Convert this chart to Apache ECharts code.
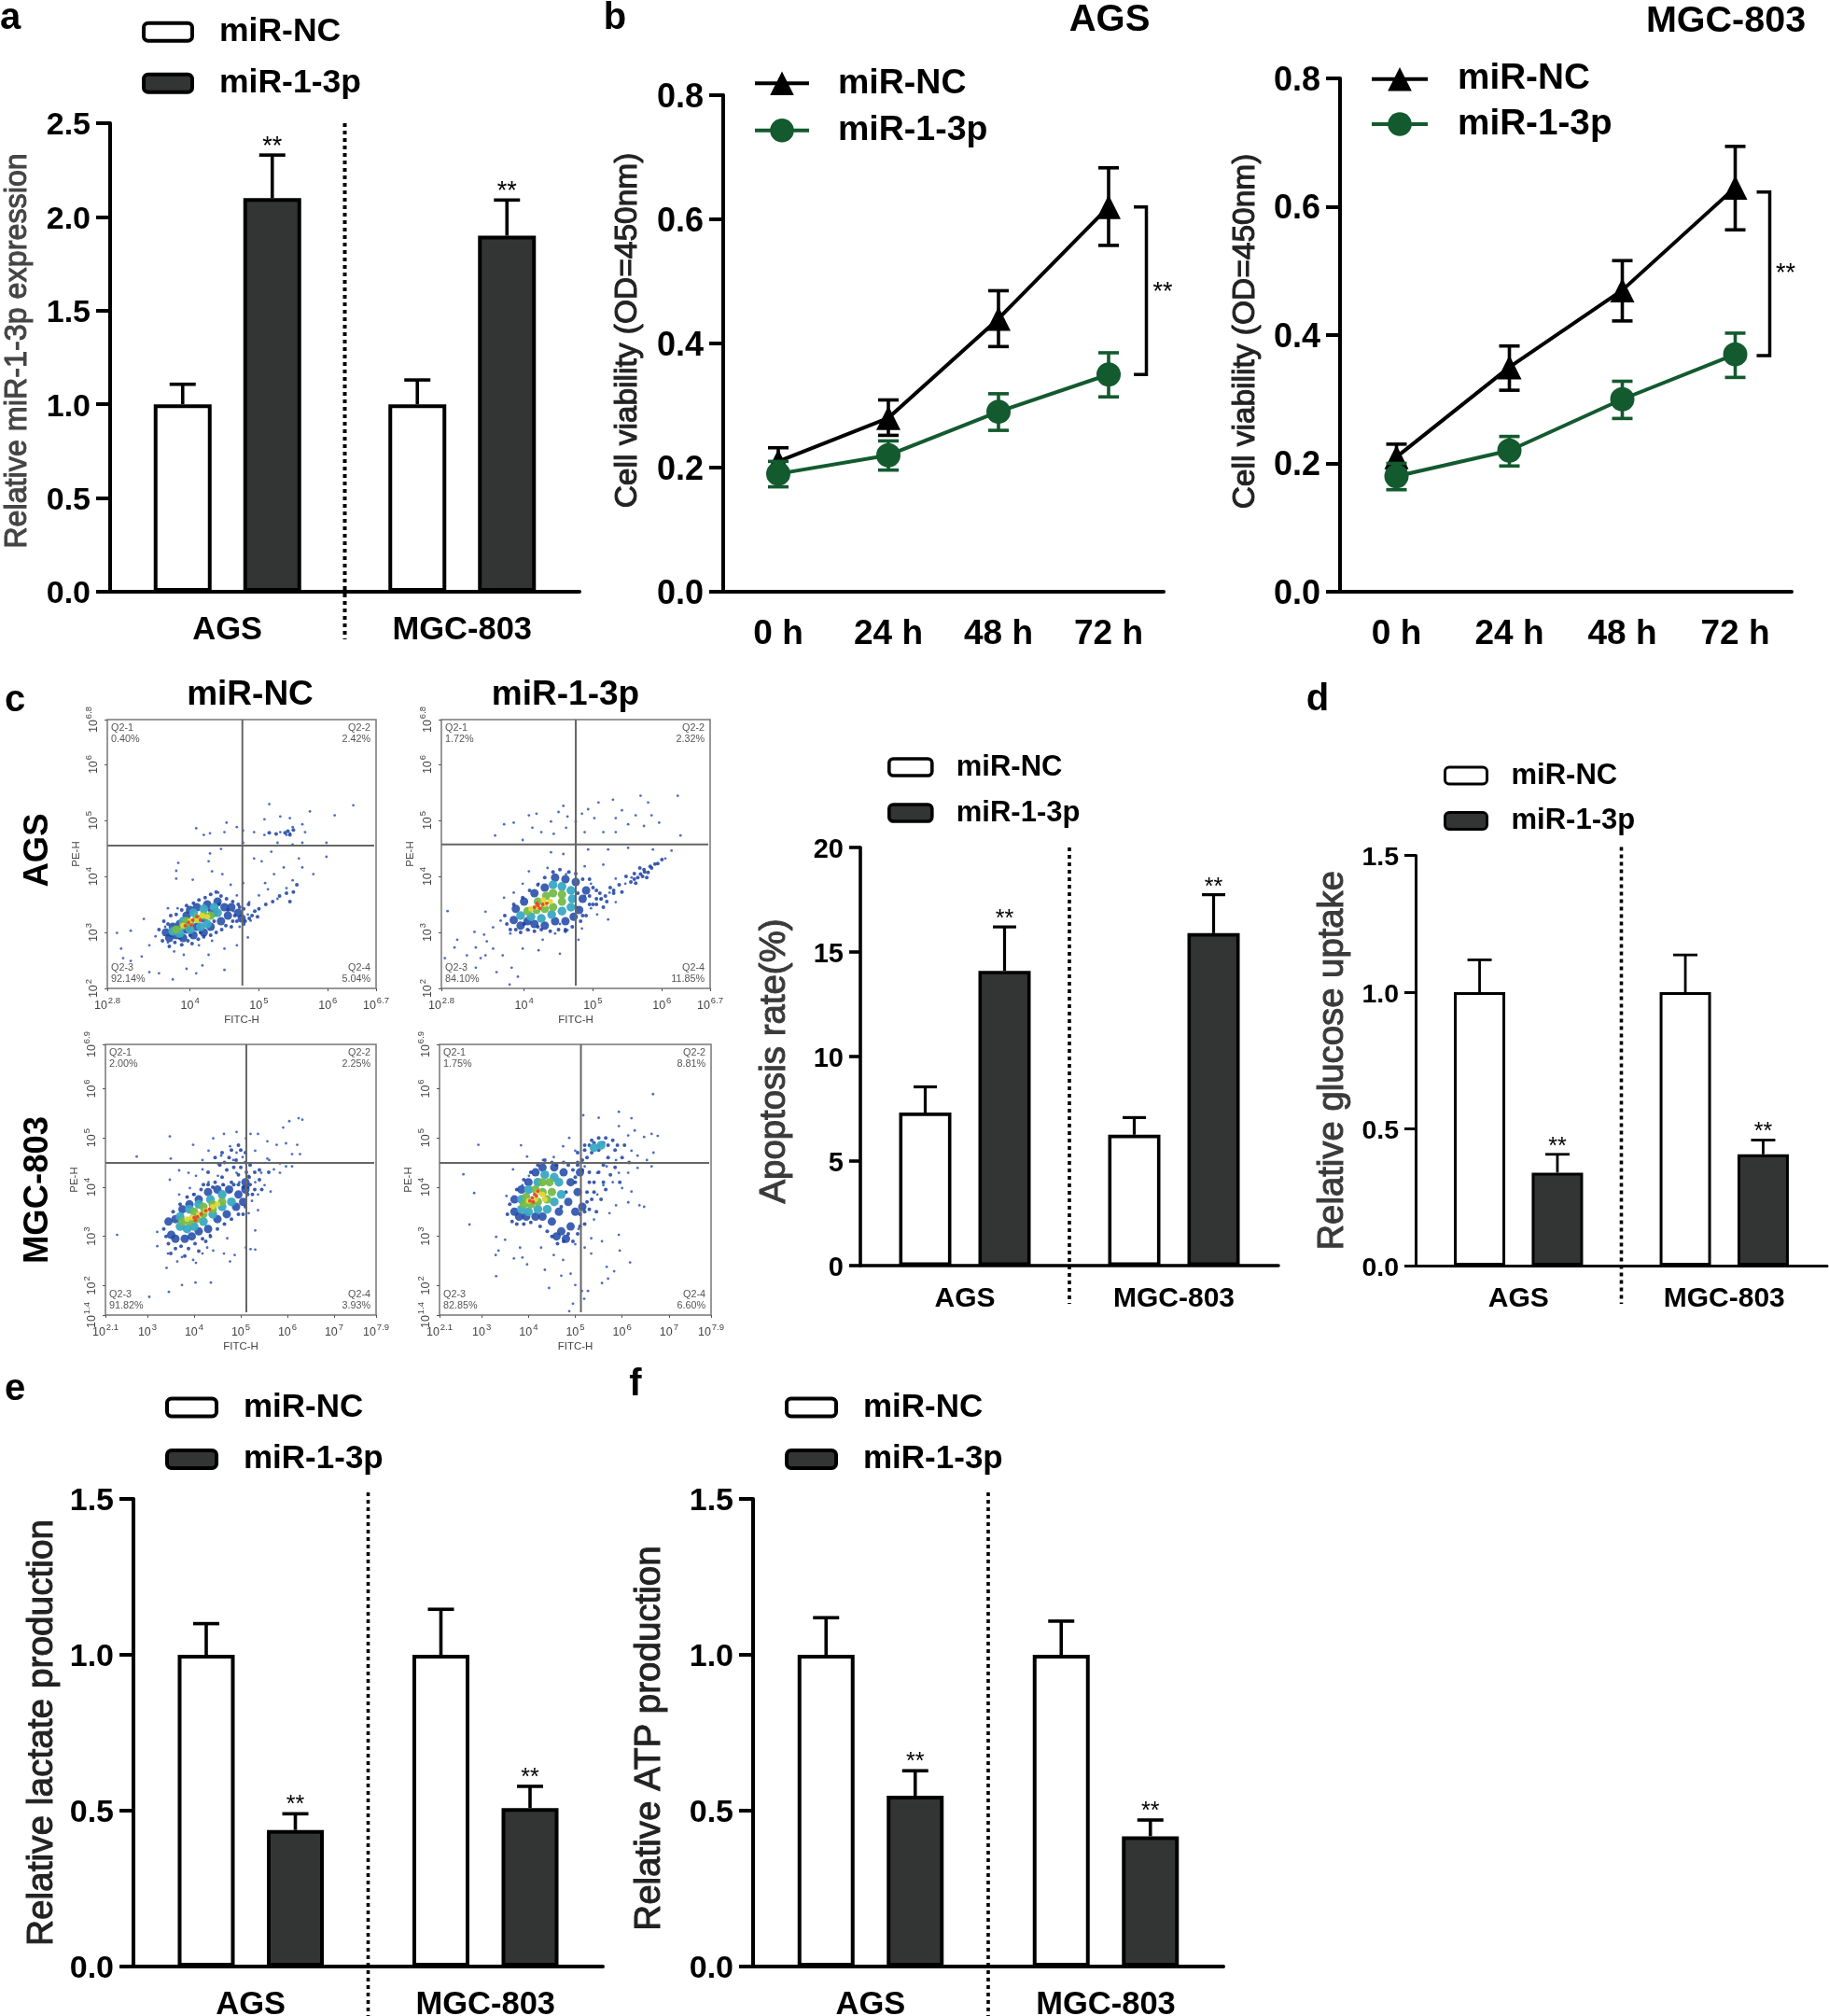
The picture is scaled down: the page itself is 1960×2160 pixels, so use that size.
<!DOCTYPE html>
<html><head><meta charset="utf-8">
<style>html,body{margin:0;padding:0;background:#fff}#c{width:1960px;height:2160px}</style>
<script src="https://cdn.jsdelivr.net/npm/echarts@6/dist/echarts.min.js"></script>
</head><body><div id="c"></div>
<script>
const cellLines=['AGS','MGC-803'];
const timePoints=['0 h','24 h','48 h','72 h'];
const NC='miR-NC', MIR='miR-1-3p';
// bar panels: means and top of the error bar
const aNC=[1,1], aNCTop=[1.107,1.13], aMiR=[2.1,1.9], aMiRTop=[2.33,2.09];
const cNC=[7.32,6.26], cNCTop=[8.55,7.08], cMiR=[14.1,15.9], cMiRTop=[16.2,17.74];
const dNC=[1,1], dNCTop=[1.118,1.136], dMiR=[0.34,0.407], dMiRTop=[0.407,0.459];
const eNC=[1,1], eNCTop=[1.10,1.146], eMiR=[0.438,0.508], eMiRTop=[0.49,0.578];
const fNC=[1,1], fNCTop=[1.119,1.108], fMiR=[0.548,0.418], fMiRTop=[0.628,0.47];
// line panels
const bAgsNC=[0.21,0.28,0.44,0.62], bAgsNCUp=[0.232,0.309,0.485,0.683], bAgsNCLo=[0.19,0.252,0.395,0.558];
const bAgsMiR=[0.19,0.22,0.29,0.35], bAgsMiRUp=[0.21,0.243,0.319,0.385], bAgsMiRLo=[0.169,0.196,0.26,0.314];
const bAgsBracket=[0.62,0.35,0.482];
const bMgcNC=[0.21,0.35,0.47,0.63], bMgcNCUp=[0.23,0.383,0.516,0.694], bMgcNCLo=[0.19,0.314,0.422,0.564];
const bMgcMiR=[0.18,0.22,0.30,0.37], bMgcMiRUp=[0.2,0.242,0.328,0.403], bMgcMiRLo=[0.159,0.196,0.27,0.334];
const bMgcBracket=[0.623,0.368,0.495];
// flow cytometry panels: log10 FITC-H, log10 PE-H
const q1Labels=['Q2-1\n0.40%','Q2-2\n2.42%','Q2-3\n92.14%','Q2-4\n5.04%'];
const q2Labels=['Q2-1\n1.72%','Q2-2\n2.32%','Q2-3\n84.10%','Q2-4\n11.85%'];
const q3Labels=['Q2-1\n2.00%','Q2-2\n2.25%','Q2-3\n91.82%','Q2-4\n3.93%'];
const q4Labels=['Q2-1\n1.75%','Q2-2\n8.81%','Q2-3\n82.85%','Q2-4\n6.60%'];
const f1Sparse=[[4.09,4.86],[4.2,4.74],[4.29,4.77],[4.53,4.96],[4.5,4.79],[4.68,4.88],[4.77,4.82],[4.93,4.79],[5.08,5.02],[5.08,4.74],[5.15,5.29],[5.31,5.07],[5.31,4.79],[5.4,4.74],[5.45,4.77],[5.49,4.88],[5.45,5.04],[5.63,4.93],[5.74,5.16],[5.67,4.79],[6.1,5.09],[6.37,5.27],[5.98,4.6],[5.98,4.35],[5.49,4.57],[5.63,4.6],[5.27,4.6],[4.77,4.6],[4.45,4.49],[4.29,4.41],[5.18,4.44],[4.93,4.32],[5.04,4.27],[5.58,4.32],[5.36,4.16],[5.63,4.16],[5.79,4.04],[5.22,4.04],[5.09,3.88],[5.4,3.79],[5.27,3.6],[5,3.66],[4.86,3.54],[5.49,3.93],[5.13,3.77],[4.68,3.66],[4.59,3.85],[4.77,3.88],[4.47,4.04],[4.32,4.09],[4.27,4.27],[3.8,4.1],[3.83,4.24],[4.04,3.94],[3.8,3.96],[2.94,2.99],[3.14,3.03],[3.33,3.24],[3,2.71],[3.03,2.54],[3.14,2.49],[3.3,2.57],[3.41,2.77],[3.41,2.29],[3.55,2.27],[3.77,2.66],[3.75,2.16],[3.95,2.35],[4.09,2.27],[4.18,2.41],[4.5,2.33],[4.27,2.6],[4.5,2.71],[4.68,2.77],[3.91,2.6],[4.13,2.77],[4.84,2.91],[4.72,3.1],[4.88,3.21],[4.63,3.38],[4.84,3.32],[3.64,3.1],[3.68,3.43],[3.82,3.43],[3.68,2.82],[3.5,2.93],[4.32,2.85],[4.41,3.71]];
const f1Mid=[[4.9,3.3],[5.0,3.42],[5.1,3.5],[5.2,3.55],[5.3,3.65],[5.4,3.7],[5.5,3.72],[5.55,3.85],[5.45,3.55],[5.38,4.78],[5.45,4.74],[5.42,4.81],[5.25,4.76],[5.15,4.78],[5.5,4.83],[4.8,3.2],[4.72,3.45],[4.62,3.2],[3.55,3.05],[3.6,2.85],[3.62,3.2],[3.7,2.75],[3.72,3.3],[3.78,2.82],[3.8,3.32],[3.88,2.78],[3.88,3.4],[3.97,2.85],[3.95,3.48],[4.03,2.8],[4.05,3.52],[4.12,2.88],[4.13,3.58],[4.2,2.92],[4.22,3.62],[4.3,2.95],[4.3,3.68],[4.38,3],[4.38,3.72],[4.46,3.05],[4.45,3.65],[4.52,3.12],[4.53,3.6],[4.6,3.1],[4.62,3.55],[4.68,3.2],[4.7,3.5],[4.78,3.15],[4.78,3.42],[4.86,3.25],[4.85,3.5],[4.94,3.38],[4.98,3.28],[4.42,3.5],[4.55,3.4],[4.65,3.3],[4.35,3.2],[4.28,3.4],[4.15,3],[4,2.95],[3.85,2.9],[3.72,2.95],[3.68,3.15]];
const f1Blue=[[3.65,3],[3.7,2.9],[3.75,3.1],[3.8,2.95],[3.85,3.15],[3.9,2.9],[3.95,3.05],[3.95,3.3],[4,3.4],[4.05,2.95],[4.1,3.1],[4.1,3.45],[4.2,3],[4.2,3.25],[4.25,3.5],[4.3,3.1],[4.35,3.35],[4.4,3.55],[4.45,3.2],[4.5,3.45],[4.55,3.3],[4.6,3.45],[4.7,3.35],[4.75,3.25]];
const f1Cyan=[[3.75,3.02],[3.85,2.98],[4,3.05],[4.15,3.1],[4.25,3.15],[4.4,3.35],[4.35,3.45],[4.2,3.42],[4.05,3.35],[3.9,3.2]];
const f1Green=[[3.8,3.05],[3.9,3.12],[4,3.18],[4.1,3.25],[4.2,3.3],[4.3,3.3],[3.95,3.2]];
const f1Yellow=[[3.9,3.12],[4,3.2],[4.1,3.22],[4.18,3.3],[4.25,3.28]];
const f1Red=[[3.93,3.12],[3.98,3.18],[4.04,3.22],[4.02,3.13],[4.1,3.28],[4.15,3.22]];
const f2Sparse=[[3.71,4.93],[3.85,4.96],[3.58,4.73],[4.07,5.09],[4.18,5.12],[4.12,4.87],[4.25,4.79],[4.39,4.98],[4.5,5.15],[4.57,5.26],[4.63,5.07],[4.61,4.87],[4.75,4.98],[4.84,5.12],[4.93,5.2],[5.08,5.32],[5.02,5.04],[5.15,4.79],[5.29,5.37],[5.33,5.04],[5.42,5.18],[5.51,4.93],[5.62,5.09],[5.69,5.44],[5.8,5.32],[5.74,4.9],[5.85,5.09],[5.96,4.96],[6.23,5.44],[6.27,4.73],[5.33,4.79],[4.88,4.79],[4.43,4.76],[3.98,4.65],[4.39,4.43],[4.57,4.4],[4.93,4.48],[5.22,4.48],[5.51,4.51],[5.87,4.48],[6.14,4.46],[6.05,4.32],[5.56,3.98],[5.47,3.87],[5.33,3.96],[5.15,4.21],[4.88,4.18],[4.97,3.87],[5.24,3.71],[5.33,3.54],[5.11,3.59],[4.97,3.43],[4.88,3.65],[5.06,3.32],[5.22,3.23],[4.84,3.07],[4.79,2.87],[4.61,4.04],[4.34,4.15],[4.07,4.09],[3.98,3.87],[3.85,3.71],[4.21,3.87],[3.71,3.62],[3.44,3.37],[2.89,3.38],[3.66,3.21],[3.55,3.09],[3.42,2.96],[3.28,3.01],[3.46,2.84],[3.3,2.73],[3.55,2.71],[2.99,2.73],[3.03,2.87],[3.17,2.59],[3.37,2.54],[3.44,2.59],[3.69,2.59],[3.8,2.98],[4.07,3.04],[4.27,2.87],[4.21,2.68],[3.98,2.71],[3.82,2.37],[3.79,2.07],[3.91,2.21],[3.6,2.29],[4.52,2.62],[4.45,2.98],[4.63,3.04],[3.3,2.37],[2.85,2.54],[4.52,3.15]];
const f2Mid=[[5.94,4.23],[5.83,4.18],[5.74,4.12],[5.69,4.04],[5.8,4.07],[5.65,3.98],[5.75,4.08],[5.85,4.15],[5.6,3.95],[5.72,4],[5,3.5],[5.1,3.7],[5.05,3.6],[5.2,3.55],[5.3,3.75],[5,3.8],[4.95,3.65],[5.15,3.45],[3.75,3.15],[3.72,3.3],[3.8,3.05],[3.88,3.05],[3.85,3.5],[3.95,3],[3.98,3.62],[4.05,3.05],[4.08,3.75],[4.15,3.02],[4.2,3.85],[4.25,3.05],[4.3,3.98],[4.38,3.02],[4.42,4.08],[4.5,3.05],[4.52,4.12],[4.6,3.05],[4.65,4.08],[4.7,3.1],[4.75,4.05],[4.82,3.2],[4.85,3.95],[4.9,3.3],[4.95,3.95],[4.95,3.5],[5.05,3.5],[5.05,3.75],[5.12,3.6],[5.18,3.65],[5.25,3.8],[5.3,3.7],[5.38,3.85],[5.42,3.72],[5.48,4],[5.55,3.9],[5.6,4.05],[5.78,3.98],[5.9,4.22],[6,4.3],[5.68,4.15],[5.62,3.88],[4.75,3.45],[4.78,3.7],[4.85,3.3],[4.6,3.02],[4.2,3.1],[4,3.15]];
const f2Blue=[[3.85,3.22],[3.95,3.12],[4.05,3.2],[4.15,3.15],[4.3,3.12],[4.45,3.2],[4.6,3.2],[4.72,3.28],[4.8,3.4],[4.85,3.6],[4.9,3.75],[4.75,3.9],[4.6,3.95],[4.45,3.98],[4.3,3.8],[4.15,3.7],[4,3.55],[3.88,3.42]];
const f2Cyan=[[3.95,3.3],[4.1,3.28],[4.25,3.25],[4.4,3.32],[4.55,3.38],[4.68,3.45],[4.7,3.6],[4.68,3.75],[4.55,3.82],[4.42,3.85]];
const f2Green=[[4.05,3.38],[4.18,3.4],[4.3,3.42],[4.42,3.45],[4.55,3.55],[4.55,3.68],[4.42,3.7],[4.32,3.65],[4.2,3.55]];
const f2Yellow=[[4.1,3.42],[4.2,3.45],[4.3,3.5],[4.38,3.55],[4.28,3.58]];
const f2Red=[[4.15,3.45],[4.2,3.48],[4.23,3.43],[4.27,3.5],[4.19,3.52],[4.33,3.52]];
const f3Sparse=[[2.35,3.03],[2.77,4.62],[3.48,5.03],[3.5,4.58],[3.98,4.86],[3.21,3.09],[3.21,2.8],[3.44,2.65],[3.41,2.36],[3.74,2.01],[3.46,1.87],[4.03,2.06],[4.36,2.06],[3.04,1.77],[3.64,2.49],[3.74,2.58],[3.98,2.52],[4.04,2.46],[4.18,2.65],[4.28,2.77],[4.41,2.71],[4.64,2.65],[4.77,2.49],[4.87,2.62],[4.34,3.03],[4.71,2.96],[5.11,2.77],[5.21,2.74],[5.31,2.73],[5.31,3.12],[5.17,3.47],[5.37,3.53],[3.98,3.85],[3.91,3.98],[4.04,4.23],[4.18,4.36],[4.31,4.1],[4.51,4.23],[4.64,4.04],[4.77,3.91],[4.91,4.29],[4.97,4.1],[5.17,4.23],[5.31,4.1],[5.44,4.29],[5.51,4.04],[5.37,3.85],[5.24,3.72],[5.64,3.91],[5.84,4.29],[5.97,4.42],[6.1,4.42],[5.71,4.36],[5.61,4.55],[5.84,4.48],[6.1,4.67],[6.27,4.67],[6.21,4.86],[5.97,4.89],[5.77,4.86],[5.91,5.21],[6.04,5.34],[6.24,5.4],[6.32,5.37],[5.57,4.93],[5.37,5.08],[5.21,5.08],[5.11,4.99],[4.91,5.12],[4.64,5.08],[4.41,4.99],[4.31,4.74],[4.58,4.64],[4.77,4.83],[4.91,4.7],[5.04,4.61],[5.31,4.74],[5.57,4.58],[4.51,4.48],[4.84,4.55],[4.18,4.55],[3.68,4.34],[3.48,4.15],[3.88,4.29],[3.68,3.85]];
const f3Mid=[[5.12,4.3],[5.05,4],[5.15,3.85],[5.2,4.05],[5.3,3.95],[4.95,4.25],[4.85,4.05],[4.6,4.2],[4.75,4.6],[4.9,4.55],[5,4.75],[5.1,4.5],[4.6,4.7],[5.4,4.35],[5.6,4.3],[4.2,4.05],[4.4,4],[3.35,3.15],[3.4,3],[3.45,2.85],[3.55,3.5],[3.6,2.75],[3.7,3.65],[3.72,2.8],[3.85,3.8],[3.88,2.75],[4,3.85],[4.02,2.85],[4.15,3.95],[4.18,2.95],[4.3,4.05],[4.35,3],[4.45,4.1],[4.5,3.15],[4.62,4.05],[4.65,3.25],[4.8,4.1],[4.8,3.35],[4.95,4.05],[4.95,3.45],[5.1,3.6],[5.15,4],[5.05,3.45],[5.18,4.2],[5.25,3.85],[5,4.4],[4.85,4.4],[4.7,4.35],[4.55,4.45],[5.1,4.7],[4.95,4.85],[4.8,4.75],[4.65,4.5],[5.2,4.45],[5.3,4.3],[5.4,4.15],[5.45,3.95],[4.45,4.6],[4.3,4.3],[3.5,2.65],[3.8,2.6],[4.1,2.7],[4.25,2.9]];
const f3Blue=[[3.51,3.03],[3.6,3.35],[3.6,2.95],[3.75,3.55],[3.8,2.95],[3.95,3],[3.9,3.65],[4.1,3.75],[4.1,3.1],[4.3,3.15],[4.3,3.9],[4.5,3.35],[4.5,3.95],[4.7,3.45],[4.75,3.95],[4.9,3.6],[4.95,3.85],[5.05,3.7],[5.1,3.95],[5.1,4.1],[3.45,3.3]];
const f3Cyan=[[3.7,3.2],[3.85,3.15],[4,3.2],[4.2,3.3],[4.4,3.45],[4.6,3.6],[4.8,3.7],[4.6,3.85],[4.35,3.75],[4.1,3.65],[3.9,3.55],[3.7,3.4]];
const f3Green=[[3.75,3.3],[3.9,3.3],[4.05,3.35],[4.2,3.45],[4.4,3.55],[4.6,3.7],[4.4,3.65],[4.2,3.6],[4,3.5]];
const f3Yellow=[[3.95,3.38],[4.1,3.45],[4.25,3.52],[4.4,3.6],[4.5,3.65],[3.85,3.35]];
const f3Red=[[4,3.38],[4.07,3.4],[4.15,3.45],[4.25,3.52],[4.33,3.55],[4.03,3.33]];
const f4Sparse=[[2.61,4.26],[2.84,3.88],[2.74,3.24],[2.93,4.86],[3.84,4.85],[3.97,4.62],[3.53,3.82],[3.67,4.36],[3.31,2.99],[3.5,2.93],[3.36,2.71],[3.3,2.62],[3.69,2.55],[3.87,2.57],[3.31,2.19],[3.97,2.43],[3.82,2.77],[4.27,2.77],[4.35,2.32],[4.44,1.95],[4.54,2.62],[4.74,2.52],[5,2.01],[4.9,2.24],[4.7,2.2],[4.95,1.63],[4.87,1.48],[5.19,1.73],[5.27,1.89],[5.14,1.89],[5.57,2.05],[5.67,2.38],[5.83,2.29],[5.7,2.14],[5.34,2.65],[5.57,2.9],[5.95,2.71],[6.17,2.47],[5.93,3.03],[5.34,2.96],[5.2,2.77],[5,2.84],[5.07,3.15],[5.4,3.34],[5.73,3.47],[5.87,3.63],[6.13,3.69],[6.37,3.63],[6.47,3.6],[6.2,3.91],[6,3.98],[5.8,4.1],[5.93,4.29],[6.13,4.29],[6.33,4.39],[6.63,4.42],[6.53,4.55],[6.33,4.64],[6.2,4.74],[6.67,4.7],[6.13,5.05],[6.27,5.15],[6.63,5.08],[6.76,5.04],[6.47,5.02],[5.93,5.24],[5.93,5.53],[6.2,5.4],[6.66,5.89],[5.5,5.41],[5.17,5.46],[5.87,4.55],[5.67,4.42],[5.47,4.29],[5.6,4.04],[5.47,3.85],[5.2,4.42],[4.87,5],[4.74,4.83],[5,4.74],[4.54,4.61],[4.31,4.55],[4.01,4.23],[3.87,4.04]];
const f4Mid=[[5.2,4.75],[5.3,4.85],[5.4,4.9],[5.5,4.85],[5.6,4.9],[5.7,4.85],[5.35,4.7],[5.5,4.75],[5.15,4.55],[5.05,4.45],[5,4.2],[5.3,4.3],[5.4,4.1],[5.25,3.9],[5.2,3.5],[5.1,3.2],[5.35,3.75],[5.6,4.1],[5.85,4.75],[6,4.6],[3.55,3.45],[3.6,3.65],[3.65,3.3],[3.75,3.95],[3.75,3.25],[3.9,4.15],[3.9,3.25],[4.05,4.3],[4.05,3.28],[4.2,4.45],[4.25,3.2],[4.35,4.55],[4.4,3.1],[4.5,4.5],[4.5,3],[4.6,4.45],[4.62,2.85],[4.75,4.5],[4.75,2.9],[4.85,4.45],[4.85,3.05],[4.95,4.35],[4.95,2.9],[5.05,4.5],[5.05,3.05],[5.15,4.35],[5.1,3.45],[5.2,3.25],[5.25,3.7],[5.3,3.55],[5.3,4.1],[5.4,3.9],[5.45,3.5],[5.5,4.3],[5.55,3.75],[5.6,4.45],[5.65,3.95],[5.7,4.6],[5.75,4.25],[5.85,4.4],[5.95,4.1],[5.05,4.7],[5.2,4.85],[5.35,4.95],[5.5,5],[5.65,5],[5.8,4.95],[5.9,4.85],[6.05,4.85],[6.15,4.5],[5.25,4.6],[4.7,3.6],[4.8,3.9],[5,4.1]];
const f4Blue=[[3.7,3.5],[3.7,3.75],[3.8,3.4],[3.85,3.95],[3.95,3.4],[4,4.1],[4.15,3.4],[4.15,4.3],[4.3,3.4],[4.3,4.4],[4.5,3.3],[4.55,4.4],[4.65,3.5],[4.75,4.3],[4.85,3.7],[4.9,4.1],[5,3.5],[5.05,3.9],[5.1,4.3],[4.7,3.1],[4.6,3],[4.8,2.95],[4.9,3.2],[5.15,3.6]];
const f4Cyan=[[3.85,3.55],[4,3.5],[4.2,3.55],[4.4,3.55],[4.55,3.7],[4.7,3.85],[4.65,4.1],[4.55,4.2],[4.35,4.25],[4.2,4.1],[4,3.95],[3.85,3.75],[5.4,4.8],[5.55,4.85]];
const f4Green=[[3.9,3.65],[4.05,3.65],[4.2,3.7],[4.4,3.75],[4.5,3.9],[4.45,4.1],[4.3,4.1],[4.15,3.95],[3.95,3.8],[4.3,3.9]];
const f4Yellow=[[4,3.72],[4.15,3.75],[4.3,3.85],[4.2,3.9],[4.35,3.75]];
const f4Red=[[4.03,3.72],[4.08,3.78],[4.13,3.85],[4.17,3.82],[4.1,3.7],[4.2,3.92]];

const FF='"Liberation Sans", Arial, sans-serif';
const DARK='#333534', GREEN='#135a2f';
const grid=[],xAxis=[],yAxis=[],series=[],legend=[],graphic=[];
function strip(n){return n.split(':')[1];}
function addLegend(id,left,c1,pitch,iw,ih,font,gap,bar,lw){
  const l={show:true,left,top:c1-font/2,orient:'vertical',padding:0,itemGap:pitch-font,itemWidth:iw,itemHeight:ih,selectedMode:false,
    data:[id+':'+NC,id+':'+MIR],
    formatter:n=>'{g|}{t|'+strip(n)+'}',
    textStyle:{rich:{g:{width:gap},t:{fontSize:font,fontWeight:'bold',fontFamily:FF,color:'#000'}}}};
  if(bar){l.icon='roundRect';l.itemStyle={borderColor:'#000',borderWidth:lw};}
  else{l.lineStyle={width:4};}
  legend.push(l);
}
function axes(c,cats,labelMargin){
  const i=grid.length;
  grid.push({left:c.left,top:c.top,width:c.width,height:c.height,containLabel:false,outerBoundsMode:'none'});
  xAxis.push({type:'category',gridIndex:i,data:cats,
    axisLine:{onZero:false,lineStyle:{color:'#000',width:c.lw}},axisTick:{alignWithLabel:true,length:c.tick,lineStyle:{color:'#000',width:c.lw}},
    axisLabel:{color:'#000',fontFamily:FF,fontWeight:'bold',fontSize:c.catFont,margin:labelMargin,interval:0},splitLine:{show:false}});
  yAxis.push({type:'value',gridIndex:i,min:0,max:c.max,interval:c.interval,
    name:c.ylabel,nameLocation:'middle',nameGap:c.nameGap,
    nameTextStyle:{color:c.nameColor,fontFamily:FF,fontSize:c.nameFont,textBorderColor:c.nameColor,textBorderWidth:1,padding:c.namePad||0},
    axisLine:{show:true,lineStyle:{color:'#000',width:c.lw}},axisTick:{show:true,length:c.tick,lineStyle:{color:'#000',width:c.lw}},
    axisLabel:{margin:c.tick+6,formatter:v=>'{v|'+v.toFixed(c.digits)+'}',rich:{v:{color:'#000',fontFamily:FF,fontWeight:'bold',fontSize:c.tickFont,padding:[6,0,0,0]}},showMinLabel:true,showMaxLabel:true},splitLine:{show:false}});
  return i;
}
function barPanel(c){
  const i=axes(c,cellLines,c.catMargin);
  const off=c.barDiff/2;
  const gapRatio=(c.barDiff-c.barW)/c.barW*100+'%';
  const bar=(nm,d,color)=>({type:'bar',name:c.id+':'+nm,xAxisIndex:i,yAxisIndex:i,data:d,barWidth:c.barW,barGap:gapRatio,z:3,
    itemStyle:{color,borderColor:'#000',borderWidth:c.lw}});
  const err=(vals,tops,dx,stars)=>({type:'custom',xAxisIndex:i,yAxisIndex:i,z:2,silent:true,
    data:vals.map((v,k)=>[k,tops[k],v]),encode:{x:0,y:1},
    renderItem(p,api){
      const k=api.value(0),t=api.coord([k,api.value(1)]),b=api.coord([k,api.value(2)]),x=t[0]+dx;
      const st={stroke:'#000',lineWidth:c.errW,fill:null};
      const ch=[{type:'line',shape:{x1:x,y1:t[1],x2:x,y2:b[1]},style:st},
        {type:'line',shape:{x1:x-c.cap/2,y1:t[1],x2:x+c.cap/2,y2:t[1]},style:st}];
      if(stars)ch.push({type:'text',style:{text:'**',x,y:t[1]-c.starUp,align:'center',verticalAlign:'middle',fontSize:c.starFont,fontFamily:FF,fill:'#000'}});
      return {type:'group',children:ch};
    }});
  series.push(err(c.nc,c.ncTop,-off,false),err(c.mir,c.mirTop,off,true),bar(NC,c.nc,'#fff'),bar(MIR,c.mir,DARK));
  series.push({type:'custom',xAxisIndex:i,yAxisIndex:i,silent:true,z:4,data:[[0,0]],encode:{x:0,y:1},
    renderItem(p){const s=p.coordSys,x=s.x+s.width/2;
      return {type:'line',shape:{x1:x,y1:s.y-c.sepUp,x2:x,y2:s.y+s.height+c.sepDown},style:{stroke:'#000',lineWidth:c.sepW,lineDash:[4,4],fill:null}};}});
  addLegend(c.id,c.lg[0],c.lg[1],c.lg[2],c.lg[3],c.lg[4],c.lg[5],c.lg[6],true,c.lw);
}
function linePanel(c){
  const i=axes(c,timePoints,c.catMargin);
  const err=(up,lo,color,z)=>({type:'custom',xAxisIndex:i,yAxisIndex:i,z,silent:true,
    data:up.map((v,k)=>[k,v,lo[k]]),encode:{x:0,y:[1,2]},
    renderItem(p,api){
      const k=api.value(0),t=api.coord([k,api.value(1)]),b=api.coord([k,api.value(2)]),x=t[0];
      const st={stroke:color,lineWidth:3.6,fill:null};
      return {type:'group',children:[{type:'line',shape:{x1:x,y1:t[1],x2:x,y2:b[1]},style:st},
        {type:'line',shape:{x1:x-11,y1:t[1],x2:x+11,y2:t[1]},style:st},
        {type:'line',shape:{x1:x-11,y1:b[1],x2:x+11,y2:b[1]},style:st}]};
    }});
  const line=(nm,d,color,sym,size,z)=>({type:'line',name:c.id+':'+nm,xAxisIndex:i,yAxisIndex:i,data:d,symbol:sym,symbolSize:size,z,
    itemStyle:{color},lineStyle:{color,width:4}});
  series.push(err(c.ncUp,c.ncLo,'#000',3),line(NC,c.nc,'#000','triangle',26,4),err(c.mirUp,c.mirLo,GREEN,5),line(MIR,c.mir,GREEN,'circle',26,6));
  const br=c.bracket;
  series.push({type:'custom',xAxisIndex:i,yAxisIndex:i,z:7,silent:true,data:[[3,br[0],br[1],br[2]]],encode:{x:0,y:[1,2]},
    renderItem(p,api){
      const a=api.coord([3,api.value(1)]),b=api.coord([3,api.value(2)]),s=api.coord([3,api.value(3)]);
      const x0=a[0]+c.brX[0],x1=a[0]+c.brX[1];
      return {type:'group',children:[{type:'polyline',shape:{points:[[x0,a[1]],[x1,a[1]],[x1,b[1]],[x0,b[1]]]},style:{stroke:'#000',lineWidth:3.5,fill:null}},
        {type:'text',style:{text:'**',x:a[0]+c.brX[2],y:s[1],align:'center',verticalAlign:'middle',fontSize:27,fontFamily:FF,fill:'#000'}}]};
    }});
  addLegend(c.id,c.lg[0],c.lg[1],c.lg[2],c.lg[3],c.lg[4],c.lg[5],c.lg[6],false);
}
function supLabel(v){
  return '{b|10}{s|'+(Number.isInteger(v)?v:v.toFixed(1))+'}';
}
const supRich={b:{fontSize:12.5,fontFamily:FF,color:'#444',verticalAlign:'bottom'},s:{fontSize:9.5,fontFamily:FF,color:'#444',padding:[0,0,7,1],verticalAlign:'bottom'}};
function flowPanel(c){
  const i=grid.length;
  grid.push({left:c.left,top:c.top,width:c.width,height:c.height,show:true,borderColor:'#777',borderWidth:1.5,backgroundColor:'#fff',outerBoundsMode:'none'});
  const ax=(g)=>({axisLine:{show:false},splitLine:{show:false},
    axisTick:{show:true,length:3,customValues:g,lineStyle:{color:'#555',width:1}},
    axisLabel:{customValues:g,formatter:supLabel,rich:supRich,margin:8,showMinLabel:true,showMaxLabel:true,hideOverlap:false}});
  xAxis.push(Object.assign(ax(c.xt),{type:'value',gridIndex:i,min:c.xr[0],max:c.xr[1],name:'FITC-H',nameLocation:'middle',nameGap:28,nameTextStyle:{fontSize:11.5,fontFamily:FF,color:'#444'}}));
  const ya=ax(c.yt);ya.axisLabel.rotate=90;
  yAxis.push(Object.assign(ya,{type:'value',gridIndex:i,min:c.yr[0],max:c.yr[1],name:'PE-H',nameLocation:'middle',nameGap:27,nameTextStyle:{fontSize:11.5,fontFamily:FF,color:'#444'}}));
  const sc=(d,color,size,op,z)=>({type:'scatter',xAxisIndex:i,yAxisIndex:i,data:d,symbol:'circle',symbolSize:size,z,silent:true,itemStyle:{color,opacity:op}});
  series.push(sc(c.blue,'#1d45a5',9,0.85,2),sc(c.sparse,'#2a55b5',2.8,0.85,3),sc(c.mid,'#1a3f9e',4,0.85,3),
    sc(c.cyan,'#39a9c4',9.5,0.95,4),sc(c.green,'#74bb4a',9,0.95,5),sc(c.yellow,'#dfd93a',6,0.95,6),sc(c.red,'#e8452a',3.8,0.95,7));
  series.push({type:'custom',xAxisIndex:i,yAxisIndex:i,z:8,silent:true,data:[[c.q[0],c.q[1]]],encode:{x:0,y:1},
    renderItem(p,api){
      const s=p.coordSys,o=api.coord([api.value(0),api.value(1)]);
      const st={stroke:'#666',lineWidth:2,fill:null};
      const txt=(t,x,y,al)=>({type:'text',style:{text:t,x,y,align:al,verticalAlign:'top',fontSize:10.8,lineHeight:12.2,fontFamily:FF,fill:'#555'}});
      const r=s.x+s.width-6,l=s.x+4,t=s.y+3,b=s.y+s.height-28;
      return {type:'group',children:[
        {type:'line',shape:{x1:o[0],y1:s.y,x2:o[0],y2:s.y+s.height-3},style:st},
        {type:'line',shape:{x1:s.x,y1:o[1],x2:s.x+s.width-2,y2:o[1]},style:st},
        txt(c.labels[0],l,t,'left'),txt(c.labels[1],r,t,'right'),txt(c.labels[2],l,b,'left'),txt(c.labels[3],r,b,'right')]};
    }});
}
function txt(text,x,y,font,bold,rot,color){
  graphic.push({type:'text',x,y,rotation:rot||0,z:20,style:{text,align:'center',verticalAlign:'middle',fontSize:font,fontWeight:bold?'bold':'normal',fontFamily:FF,fill:color||'#000'}});
}

barPanel({id:'a',left:118,top:132,width:503,height:502,max:2.5,interval:0.5,digits:1,lw:4,tick:15,tickFont:34,catFont:34.5,catMargin:24,
  ylabel:'Relative miR-1-3p expression',nameGap:83,nameFont:32.3,nameColor:'#444',namePad:[0,0,0,14],
  nc:aNC,ncTop:aNCTop,mir:aMiR,mirTop:aMiRTop,barW:62,barDiff:96,cap:28,errW:3.6,starFont:27,starUp:9,sepUp:0,sepDown:51,sepW:4,
  lg:[152,34,54.6,52,19,35.5,24]});
linePanel({id:'b1',left:775,top:102,width:472,height:532,max:0.8,interval:0.2,digits:1,lw:4,tick:15,tickFont:36,catFont:37,catMargin:27,
  ylabel:'Cell viability (OD=450nm)',nameGap:85,nameFont:33.5,nameColor:'#222',namePad:[0,0,0,28],
  nc:bAgsNC,ncUp:bAgsNCUp,ncLo:bAgsNCLo,mir:bAgsMiR,mirUp:bAgsMiRUp,mirLo:bAgsMiRLo,bracket:bAgsBracket,brX:[27,40.5,58],
  lg:[807,89,50,58,32,37.5,26]});
linePanel({id:'b2',left:1436,top:84,width:484,height:550,max:0.8,interval:0.2,digits:1,lw:4,tick:15,tickFont:36,catFont:37,catMargin:27,
  ylabel:'Cell viability (OD=450nm)',nameGap:84,nameFont:33.5,nameColor:'#222',namePad:[0,0,0,8],
  nc:bMgcNC,ncUp:bMgcNCUp,ncLo:bMgcNCLo,mir:bMgcMiR,mirUp:bMgcMiRUp,mirLo:bMgcMiRLo,bracket:bMgcBracket,brX:[23,37,54],
  lg:[1468,84.6,48,60,32,38.7,27]});
const xt1=[2.8,4,5,6,6.7],yt1=[2,3,4,5,6,6.8],xt2=[2.1,3,4,5,6,7,7.9],yt2=[1.4,2,3,4,5,6,6.9];
flowPanel({left:115,top:771,width:288,height:288,xr:[2.8,6.7],yr:[2,6.8],xt:xt1,yt:yt1,q:[4.76,4.55],labels:q1Labels,sparse:f1Sparse,mid:f1Mid,blue:f1Blue,cyan:f1Cyan,green:f1Green,yellow:f1Yellow,red:f1Red});
flowPanel({left:473,top:771,width:288,height:288,xr:[2.8,6.7],yr:[2,6.8],xt:xt1,yt:yt1,q:[4.75,4.57],labels:q2Labels,sparse:f2Sparse,mid:f2Mid,blue:f2Blue,cyan:f2Cyan,green:f2Green,yellow:f2Yellow,red:f2Red});
flowPanel({left:113,top:1119,width:290,height:290,xr:[2.1,7.9],yr:[1.4,6.9],xt:xt2,yt:yt2,q:[5.12,4.49],labels:q3Labels,sparse:f3Sparse,mid:f3Mid,blue:f3Blue,cyan:f3Cyan,green:f3Green,yellow:f3Yellow,red:f3Red});
flowPanel({left:471,top:1119,width:291,height:290,xr:[2.1,7.9],yr:[1.4,6.9],xt:xt2,yt:yt2,q:[5.12,4.49],labels:q4Labels,sparse:f4Sparse,mid:f4Mid,blue:f4Blue,cyan:f4Cyan,green:f4Green,yellow:f4Yellow,red:f4Red});
barPanel({id:'c',left:922,top:908,width:448,height:448,max:20,interval:5,digits:0,lw:3.6,tick:12,tickFont:29,catFont:30,catMargin:21,
  ylabel:'Apoptosis rate(%)',nameGap:73,nameFont:38.4,nameColor:'#3a3a3a',namePad:[0,10,0,0],
  nc:cNC,ncTop:cNCTop,mir:cMiR,mirTop:cMiRTop,barW:56,barDiff:85,cap:25,errW:3.2,starFont:25,starUp:8,sepUp:0,sepDown:41,sepW:3.6,
  lg:[951,822,49,46,18,31,21]});
barPanel({id:'d',left:1517,top:916.5,width:441,height:439.5,max:1.5,interval:0.5,digits:1,lw:3,tick:12,tickFont:28.5,catFont:30,catMargin:21,
  ylabel:'Relative glucose uptake',nameGap:70,nameFont:38.3,nameColor:'#3a3a3a',
  nc:dNC,ncTop:dNCTop,mir:dMiR,mirTop:dMiRTop,barW:55,barDiff:83.4,cap:26,errW:2.8,starFont:25,starUp:8,sepUp:9,sepDown:41,sepW:3.6,
  lg:[1547,831,48.5,45,18,31,21]});
barPanel({id:'e',left:143,top:1606,width:503,height:501,max:1.5,interval:0.5,digits:1,lw:4,tick:15,tickFont:34,catFont:34.5,catMargin:24,
  ylabel:'Relative lactate production',nameGap:78.5,nameFont:38.8,nameColor:'#222',
  nc:eNC,ncTop:eNCTop,mir:eMiR,mirTop:eMiRTop,barW:61,barDiff:95.5,cap:28,errW:3.6,starFont:25,starUp:9,sepUp:7,sepDown:53,sepW:3.6,
  lg:[177,1508,55.4,53,19,35,24]});
barPanel({id:'f',left:807,top:1606,width:504,height:501,max:1.5,interval:0.5,digits:1,lw:4,tick:15,tickFont:34,catFont:34.5,catMargin:24,
  ylabel:'Relative ATP production',nameGap:91,nameFont:38.5,nameColor:'#222',namePad:[0,12,0,0],
  nc:fNC,ncTop:fNCTop,mir:fMiR,mirTop:fMiRTop,barW:61,barDiff:95.5,cap:28,errW:3.6,starFont:25,starUp:9,sepUp:7,sepDown:53,sepW:3.6,
  lg:[841,1508,55.4,53,19,35,24]});

txt('a',11,20,40,true);txt('b',659,20,40,true);txt('c',16,751,40,true);txt('d',1412,750,40,true);txt('e',16,1489,40,true);txt('f',681,1484,40,true);
txt('AGS',1189,22,40,true);txt('MGC-803',1849.5,23,39.5,true);
txt('miR-NC',268,745,37,true);txt('miR-1-3p',606,745,37,true);
txt('AGS',41,911,36.5,true,Math.PI/2);txt('MGC-803',41,1275,36.5,true,Math.PI/2);

const chart=echarts.init(document.getElementById('c'),null,{renderer:'canvas'});
chart.setOption({animation:false,backgroundColor:'#fff',tooltip:{show:false},grid,xAxis,yAxis,series,legend,graphic});
</script></body></html>
